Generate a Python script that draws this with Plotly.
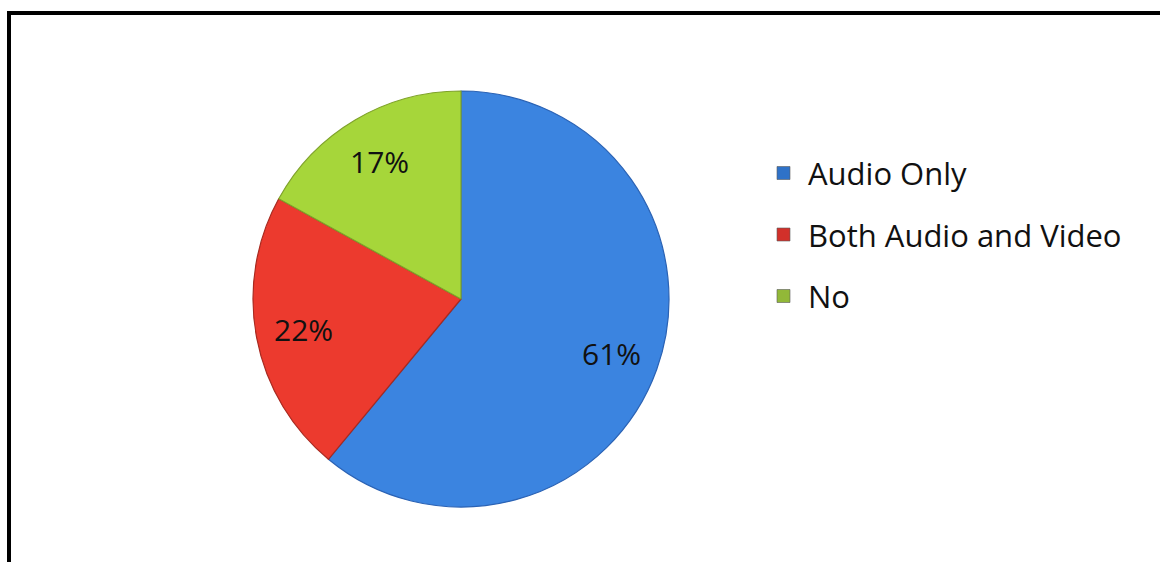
import math
import plotly.graph_objects as go

# Survey responses
categories = ["Audio Only", "Both Audio and Video", "No"]
shares = [61, 22, 17]

fill_colors = ["#3B84E0", "#EC3A2E", "#A6D63A"]
edge_colors = ["#2A62B4", "#A82A20", "#7FA22A"]
swatch_colors = ["#2F72C8", "#D2302A", "#92B838"]

W, H = 1160, 562
cx, cy, r = 461, 299, 208  # pie centre and radius in pixels
FONT = "Open Sans, Lato, sans-serif"

fig = go.Figure()
fig.add_trace(go.Pie(
    labels=categories,
    values=shares,
    sort=False,
    direction="clockwise",
    rotation=0,
    marker=dict(colors=fill_colors, line=dict(color=edge_colors, width=1.2)),
    textinfo="none",
    hoverinfo="label+percent",
    showlegend=False,
    domain=dict(x=[(cx - r) / W, (cx + r) / W],
                y=[(H - cy - r) / H, (H - cy + r) / H]),
))

annotations = []

# Percentage labels placed along each slice's mid-angle
total = sum(shares)
start = 0.0
for v in shares:
    mid = (start + v / 2) / total * 2 * math.pi  # clockwise from 12 o'clock
    start += v
    px = cx + 0.77 * r * math.sin(mid)
    py = cy - 0.77 * r * math.cos(mid)
    annotations.append(dict(text=f"{v}%", xref="paper", yref="paper",
                            x=px / W, y=1 - py / H,
                            xanchor="center", yanchor="middle", showarrow=False,
                            font=dict(family=FONT, size=30, color="#111111")))

# Legend drawn as swatches + labels
shapes = []
leg_x, leg_y0, leg_gap, sw = 777, 173, 61.5, 13
for i, (name, col) in enumerate(zip(categories, swatch_colors)):
    yc = leg_y0 + i * leg_gap
    shapes.append(dict(type="rect", xref="paper", yref="paper",
                       x0=leg_x / W, x1=(leg_x + sw) / W,
                       y0=1 - (yc - sw / 2) / H, y1=1 - (yc + sw / 2) / H,
                       fillcolor=col, line=dict(color="#5a5a5a", width=0.6)))
    annotations.append(dict(text=name, xref="paper", yref="paper",
                            x=(leg_x + sw + 16) / W, y=1 - yc / H,
                            xanchor="left", yanchor="middle", showarrow=False,
                            font=dict(family=FONT, size=31, color="#111111")))

# Black frame along the top and left
shapes.append(dict(type="line", xref="paper", yref="paper",
                   x0=7 / W, x1=1.0, y0=1 - 13 / H, y1=1 - 13 / H,
                   line=dict(color="black", width=4)))
shapes.append(dict(type="line", xref="paper", yref="paper",
                   x0=9 / W, x1=9 / W, y0=1 - 11 / H, y1=0,
                   line=dict(color="black", width=4)))

fig.update_layout(
    width=W, height=H,
    margin=dict(l=0, r=0, t=0, b=0),
    paper_bgcolor="white",
    plot_bgcolor="white",
    shapes=shapes,
    annotations=annotations,
)

fig.write_html("out.html")
